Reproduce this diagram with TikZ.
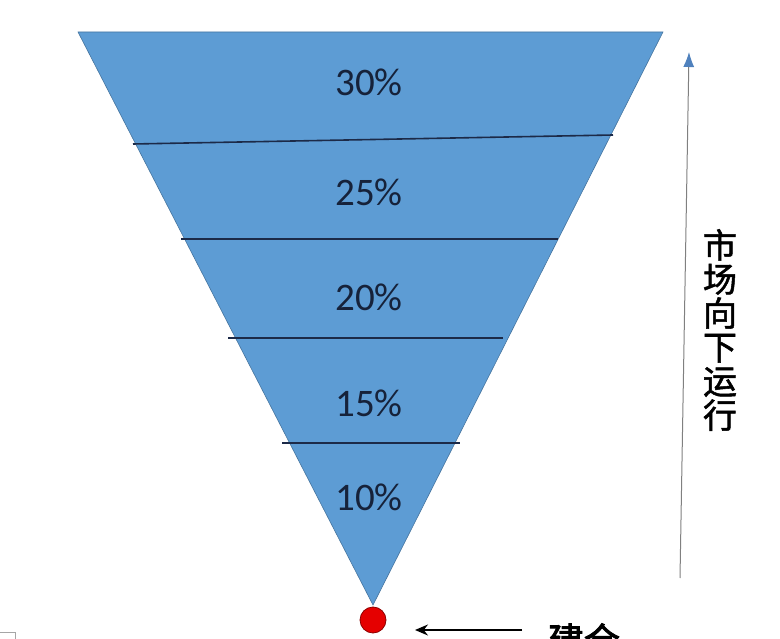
\documentclass[tikz,border=0pt]{standalone}
\usepackage{fontspec}
\setmainfont{Carlito}
\newfontfamily\cjk[FakeBold=1.5]{Noto Sans CJK SC}
\newfontfamily\cjkbold[FakeBold=2.5]{Noto Sans CJK SC}
\usetikzlibrary{arrows.meta}
\definecolor{funnelblue}{RGB}{93,156,212}
\definecolor{bandline}{RGB}{28,42,72}
\definecolor{tipblue}{RGB}{79,129,189}
\begin{document}
\begin{tikzpicture}[x=1pt, y=-1pt,
    pct/.style={font=\fontsize{39}{39}\selectfont, text=bandline!80!black},
    band/.style={bandline, line width=1.6pt}]
    \useasboundingbox (0,0) rectangle (780,639);
    \coordinate (tl) at (78,32);
    \coordinate (tr) at (663,32);
    \coordinate (tip) at (373,605);

    % funnel body
    \fill[funnelblue, draw=funnelblue!75!black, line width=0.6pt] (tl)--(tr)--(tip)--cycle;

    % band separators
    \draw[band] (133,144)--(613,135);
    \draw[band] (181,239)--(558,239);
    \draw[band] (228,338)--(503,338);
    \draw[band] (282,443)--(460,443);

    \foreach \y/\lab in {82/30, 192/25, 297/20, 403/15, 497/10}
        \node[pct] (p\lab) at (369,\y) {\lab\%};

    % entry point
    \node[circle, fill=red!90!black, draw=red!55!black, line width=0.8pt,
          minimum size=26pt, inner sep=0pt] (entry) at (373,620) {};
    \node[font=\cjkbold\fontsize{36}{36}\selectfont] (build) at (584,640) {建仓};
    \coordinate (buildtail) at (522,630);
    \coordinate (buildhead) at (415,630);
    \draw[black, line width=1.4pt, -{Stealth[length=13pt, width=11pt]}] (buildtail) -- (buildhead);

    % market direction
    \coordinate (upbot) at (680,578);
    \coordinate (uptop) at (689,52);
    \draw[gray, line width=1pt, -{Latex[color=tipblue, length=15pt, width=11pt]}] (upbot) -- (uptop);
    \node[font=\cjk\fontsize{34}{34}\selectfont, align=center, inner sep=0pt] (trend) at (720,330)
        {市\\场\\向\\下\\运\\行};

    % stray box corner
    \draw[gray!70, line width=0.8pt] (0,632)--(15,632)--(15,639);
\end{tikzpicture}
\end{document}
